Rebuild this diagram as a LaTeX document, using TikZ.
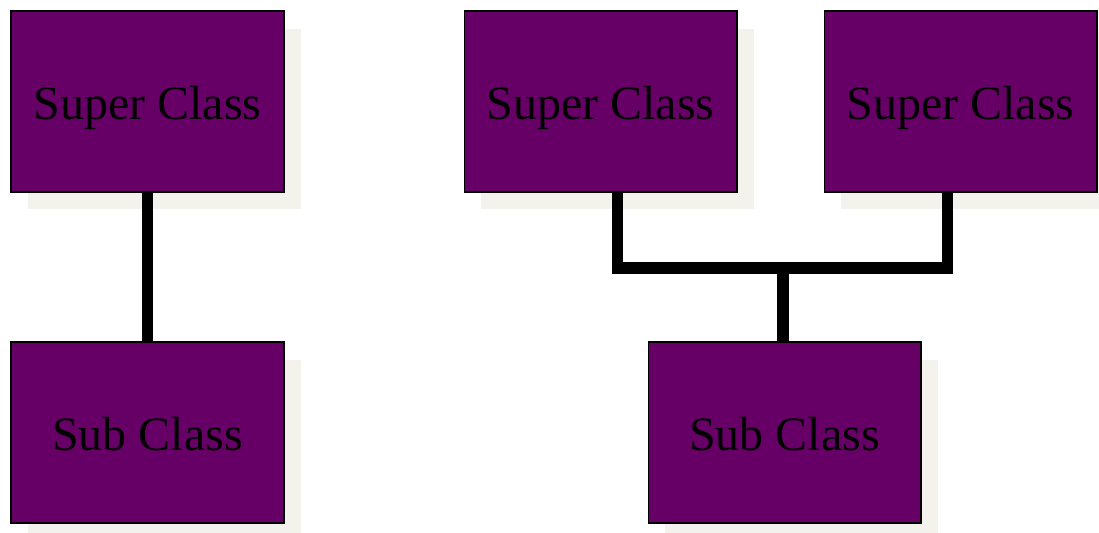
\documentclass[tikz,border=0pt]{standalone}
\usepackage{fontspec}
\setmainfont{Liberation Serif}
\usetikzlibrary{shadows}
\definecolor{plum}{RGB}{102,0,102}
\definecolor{shadowgrey}{RGB}{243,242,237}
\tikzset{
  classbox/.style={rectangle, draw=black, line width=0.6pt, fill=plum,
    minimum width=5.46cm, minimum height=3.62cm, inner sep=0pt,
    text height=21pt, text depth=0pt,
    general shadow={fill=shadowgrey, shadow xshift=0.34cm, shadow yshift=-0.35cm},
    font=\fontsize{27.3}{32}\selectfont},
  link/.style={line width=6.8pt, draw=black}
}

\begin{document}
\begin{tikzpicture}[x=0.02cm, y=-0.02cm]
\useasboundingbox (0,0) rectangle (1099,533);
% --- single inheritance ---
\node[classbox] (sup1) at (147.5,101.5) {Super Class};
\node[classbox] (sub1) at (147.5,432.5) {Sub Class};
\draw[link] (sup1.south) -- (sub1.north);
% --- multiple inheritance ---
\coordinate (bar) at (783,268);
\node[classbox] (sup2) at (600.5,101.5) {Super Class};
\node[classbox] (sup3) at (960.5,101.5) {Super Class};
\node[classbox] (sub2) at (784.5,432.5) {Sub Class};
\draw[link] ([xshift=0.34cm]sup2.south) |- (bar) -| ([xshift=-0.26cm]sup3.south);
\draw[link] (bar) -- (bar |- sub2.north);
\end{tikzpicture}
\end{document}
